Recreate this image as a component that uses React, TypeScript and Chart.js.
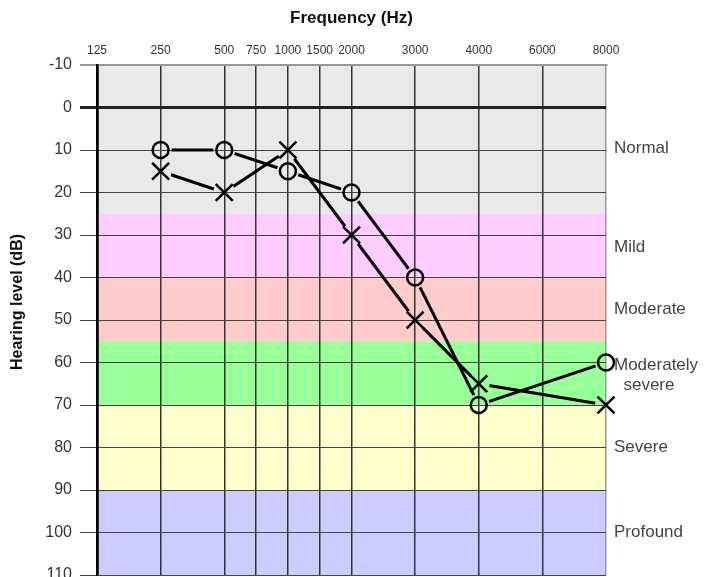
import React, { useEffect, useRef } from 'react';
import { Chart, registerables } from 'chart.js';

Chart.register(...registerables);

// Audiogram frequency columns (Hz) and their column positions on the chart
const FREQ_LABELS = ['125', '250', '500', '750', '1000', '1500', '2000', '3000', '4000', '6000', '8000'];
const FREQ_COLUMNS = [0, 1, 2, 2.5, 3, 3.5, 4, 5, 6, 7, 8];

// Tested frequencies and thresholds (dB HL)
const TEST_FREQS = ['250', '500', '1000', '2000', '3000', '4000', '8000'];
const O_LEVELS = [10, 10, 15, 20, 40, 70, 60];
const X_LEVELS = [15, 20, 10, 30, 50, 65, 70];

// Hearing-loss bands
const BAND_EDGES = [-10, 25, 40, 55, 70, 90, 110];
const BAND_COLORS = ['#e9e9e9', '#ffccff', '#ffcccc', '#99ff99', '#ffffcc', '#ccccff'];
const BAND_NAMES: (string | string[])[] = ['Normal', 'Mild', 'Moderate', ['Moderately', '  severe'], 'Severe', 'Profound'];
const BAND_LABEL_LEVELS = [9.5, 33, 47.5, 63, 80, 100];

const col = (f: string) => FREQ_COLUMNS[FREQ_LABELS.indexOf(f)];

const FONT = "'Liberation Sans', Arial, sans-serif";

const bandsPlugin = {
  id: 'bands',
  beforeDraw(chart: any) {
    const { ctx, chartArea, scales } = chart;
    const y = scales.y;
    ctx.save();
    for (let i = 0; i < BAND_COLORS.length; i++) {
      const y0 = y.getPixelForValue(BAND_EDGES[i]);
      const y1 = y.getPixelForValue(BAND_EDGES[i + 1]);
      ctx.fillStyle = BAND_COLORS[i];
      ctx.fillRect(chartArea.left, y0, chartArea.right - chartArea.left, y1 - y0);
    }
    ctx.restore();
  },
};

const gapPlugin = {
  id: 'lineGaps',
  beforeDatasetDraw(chart: any, args: any) {
    const ds: any = chart.data.datasets[args.index];
    if (!ds.gapRadius) return;
    const ctx = chart.ctx;
    const r = ds.gapRadius;
    ctx.save();
    ctx.beginPath();
    ctx.rect(0, 0, chart.width, chart.height);
    for (const pt of args.meta.data) {
      ctx.moveTo(pt.x + r, pt.y);
      ctx.arc(pt.x, pt.y, r, 0, Math.PI * 2);
    }
    ctx.clip('evenodd');
  },
  afterDatasetDraw(chart: any, args: any) {
    const ds: any = chart.data.datasets[args.index];
    if (!ds.gapRadius) return;
    chart.ctx.restore();
  },
};

const yTitlePlugin = {
  id: 'yTitle',
  afterDraw(chart: any) {
    const { ctx, chartArea } = chart;
    ctx.save();
    ctx.translate(18, (chartArea.top + chartArea.bottom) / 2 - 18);
    ctx.rotate(-Math.PI / 2);
    ctx.font = `bold 16px ${FONT}`;
    ctx.fillStyle = '#111';
    ctx.textAlign = 'center';
    ctx.textBaseline = 'middle';
    ctx.fillText('Hearing level (dB)', 0, 0);
    ctx.restore();
  },
};

export default function App() {
  const ref = useRef<HTMLCanvasElement>(null);

  useEffect(() => {
    document.body.style.margin = '0';
    const canvas = ref.current!;
    const oPoints = TEST_FREQS.map((f, i) => ({ x: col(f), y: O_LEVELS[i] }));
    const xPoints = TEST_FREQS.map((f, i) => ({ x: col(f), y: X_LEVELS[i] }));

    const chart = new Chart(canvas, {
      type: 'line',
      data: {
        datasets: [
          {
            label: 'O line',
            data: oPoints,
            borderColor: '#000',
            borderWidth: 3,
            pointRadius: 0,
            tension: 0,
            fill: false,
            gapRadius: 11,
          } as any,
          {
            label: 'X line',
            data: xPoints,
            borderColor: '#000',
            borderWidth: 3,
            pointRadius: 0,
            tension: 0,
            fill: false,
            gapRadius: 11,
          } as any,
          {
            label: 'O',
            data: oPoints,
            showLine: false,
            clip: false,
            pointStyle: 'circle',
            pointRadius: 8,
            pointBorderWidth: 2.5,
            pointBorderColor: '#000',
            pointBackgroundColor: 'rgba(0,0,0,0)',
          } as any,
          {
            label: 'X',
            data: xPoints,
            showLine: false,
            clip: false,
            pointStyle: 'crossRot',
            pointRadius: 12,
            pointBorderWidth: 2.5,
            pointBorderColor: '#000',
            pointBackgroundColor: 'rgba(0,0,0,0)',
          } as any,
        ],
      },
      options: {
        responsive: false,
        animation: false,
        events: [],
        layout: { autoPadding: false, padding: { left: 0, right: 0, top: 0, bottom: 2 } },
        plugins: {
          legend: { display: false },
          tooltip: { enabled: false },
        },
        scales: {
          x: {
            type: 'linear',
            position: 'top',
            min: 0,
            max: 8,
            afterBuildTicks: (axis: any) => {
              axis.ticks = FREQ_COLUMNS.map((v) => ({ value: v }));
            },
            afterFit: (s: any) => {
              s.height = 65;
              s.paddingLeft = 0;
              s.paddingRight = 0;
            },
            ticks: {
              autoSkip: false,
              maxRotation: 0,
              padding: 7,
              color: '#333',
              font: { size: 12, family: FONT },
              callback: (v: any) => FREQ_LABELS[FREQ_COLUMNS.indexOf(Number(v))],
            },
            grid: {
              drawTicks: false,
              color: (c: any) => (c.index === 0 ? '#000' : c.index === FREQ_COLUMNS.length - 1 ? '#999' : '#333'),
              lineWidth: (c: any) => (c.index === 0 ? 2.5 : 1.5),
            },
            border: { display: true, color: '#999', width: 2 },
            title: {
              display: true,
              text: 'Frequency (Hz)',
              color: '#111',
              font: { size: 17, weight: 'bold', family: FONT },
              padding: { top: 8, bottom: 0 },
            },
          },
          y: {
            type: 'linear',
            position: 'left',
            reverse: true,
            min: -10,
            max: 110,
            afterFit: (s: any) => {
              s.width = 97;
              s.paddingTop = 0;
              s.paddingBottom = 0;
            },
            ticks: {
              stepSize: 10,
              padding: 8,
              color: '#333',
              font: { size: 16, family: FONT },
            },
            grid: {
              tickLength: 17,
              color: (c: any) => (c.tick && c.tick.value === 0 ? '#222' : c.tick && c.tick.value === -10 ? '#999' : '#444'),
              lineWidth: (c: any) => (c.tick && c.tick.value === 0 ? 3 : c.tick && c.tick.value === -10 ? 2 : 1),
            },
            border: { display: true, color: '#000', width: 2.5 },
          },
          y2: {
            type: 'linear',
            position: 'right',
            reverse: true,
            min: -10,
            max: 110,
            afterBuildTicks: (axis: any) => {
              axis.ticks = BAND_LABEL_LEVELS.map((v) => ({ value: v }));
            },
            afterFit: (s: any) => {
              s.width = 99;
              s.paddingTop = 0;
              s.paddingBottom = 0;
            },
            ticks: {
              autoSkip: false,
              padding: 8,
              color: '#444',
              font: { size: 17, family: FONT },
              callback: (_v: any, i: number) => BAND_NAMES[i],
            },
            grid: { display: false, drawTicks: false },
            border: { display: false },
          },
        },
      } as any,
      plugins: [bandsPlugin, gapPlugin, yTitlePlugin],
    });
    return () => chart.destroy();
  }, []);

  return (
    <div style={{ width: 705, height: 577 }}>
      <canvas ref={ref} width={705} height={577} style={{ display: 'block' }} />
    </div>
  );
}
